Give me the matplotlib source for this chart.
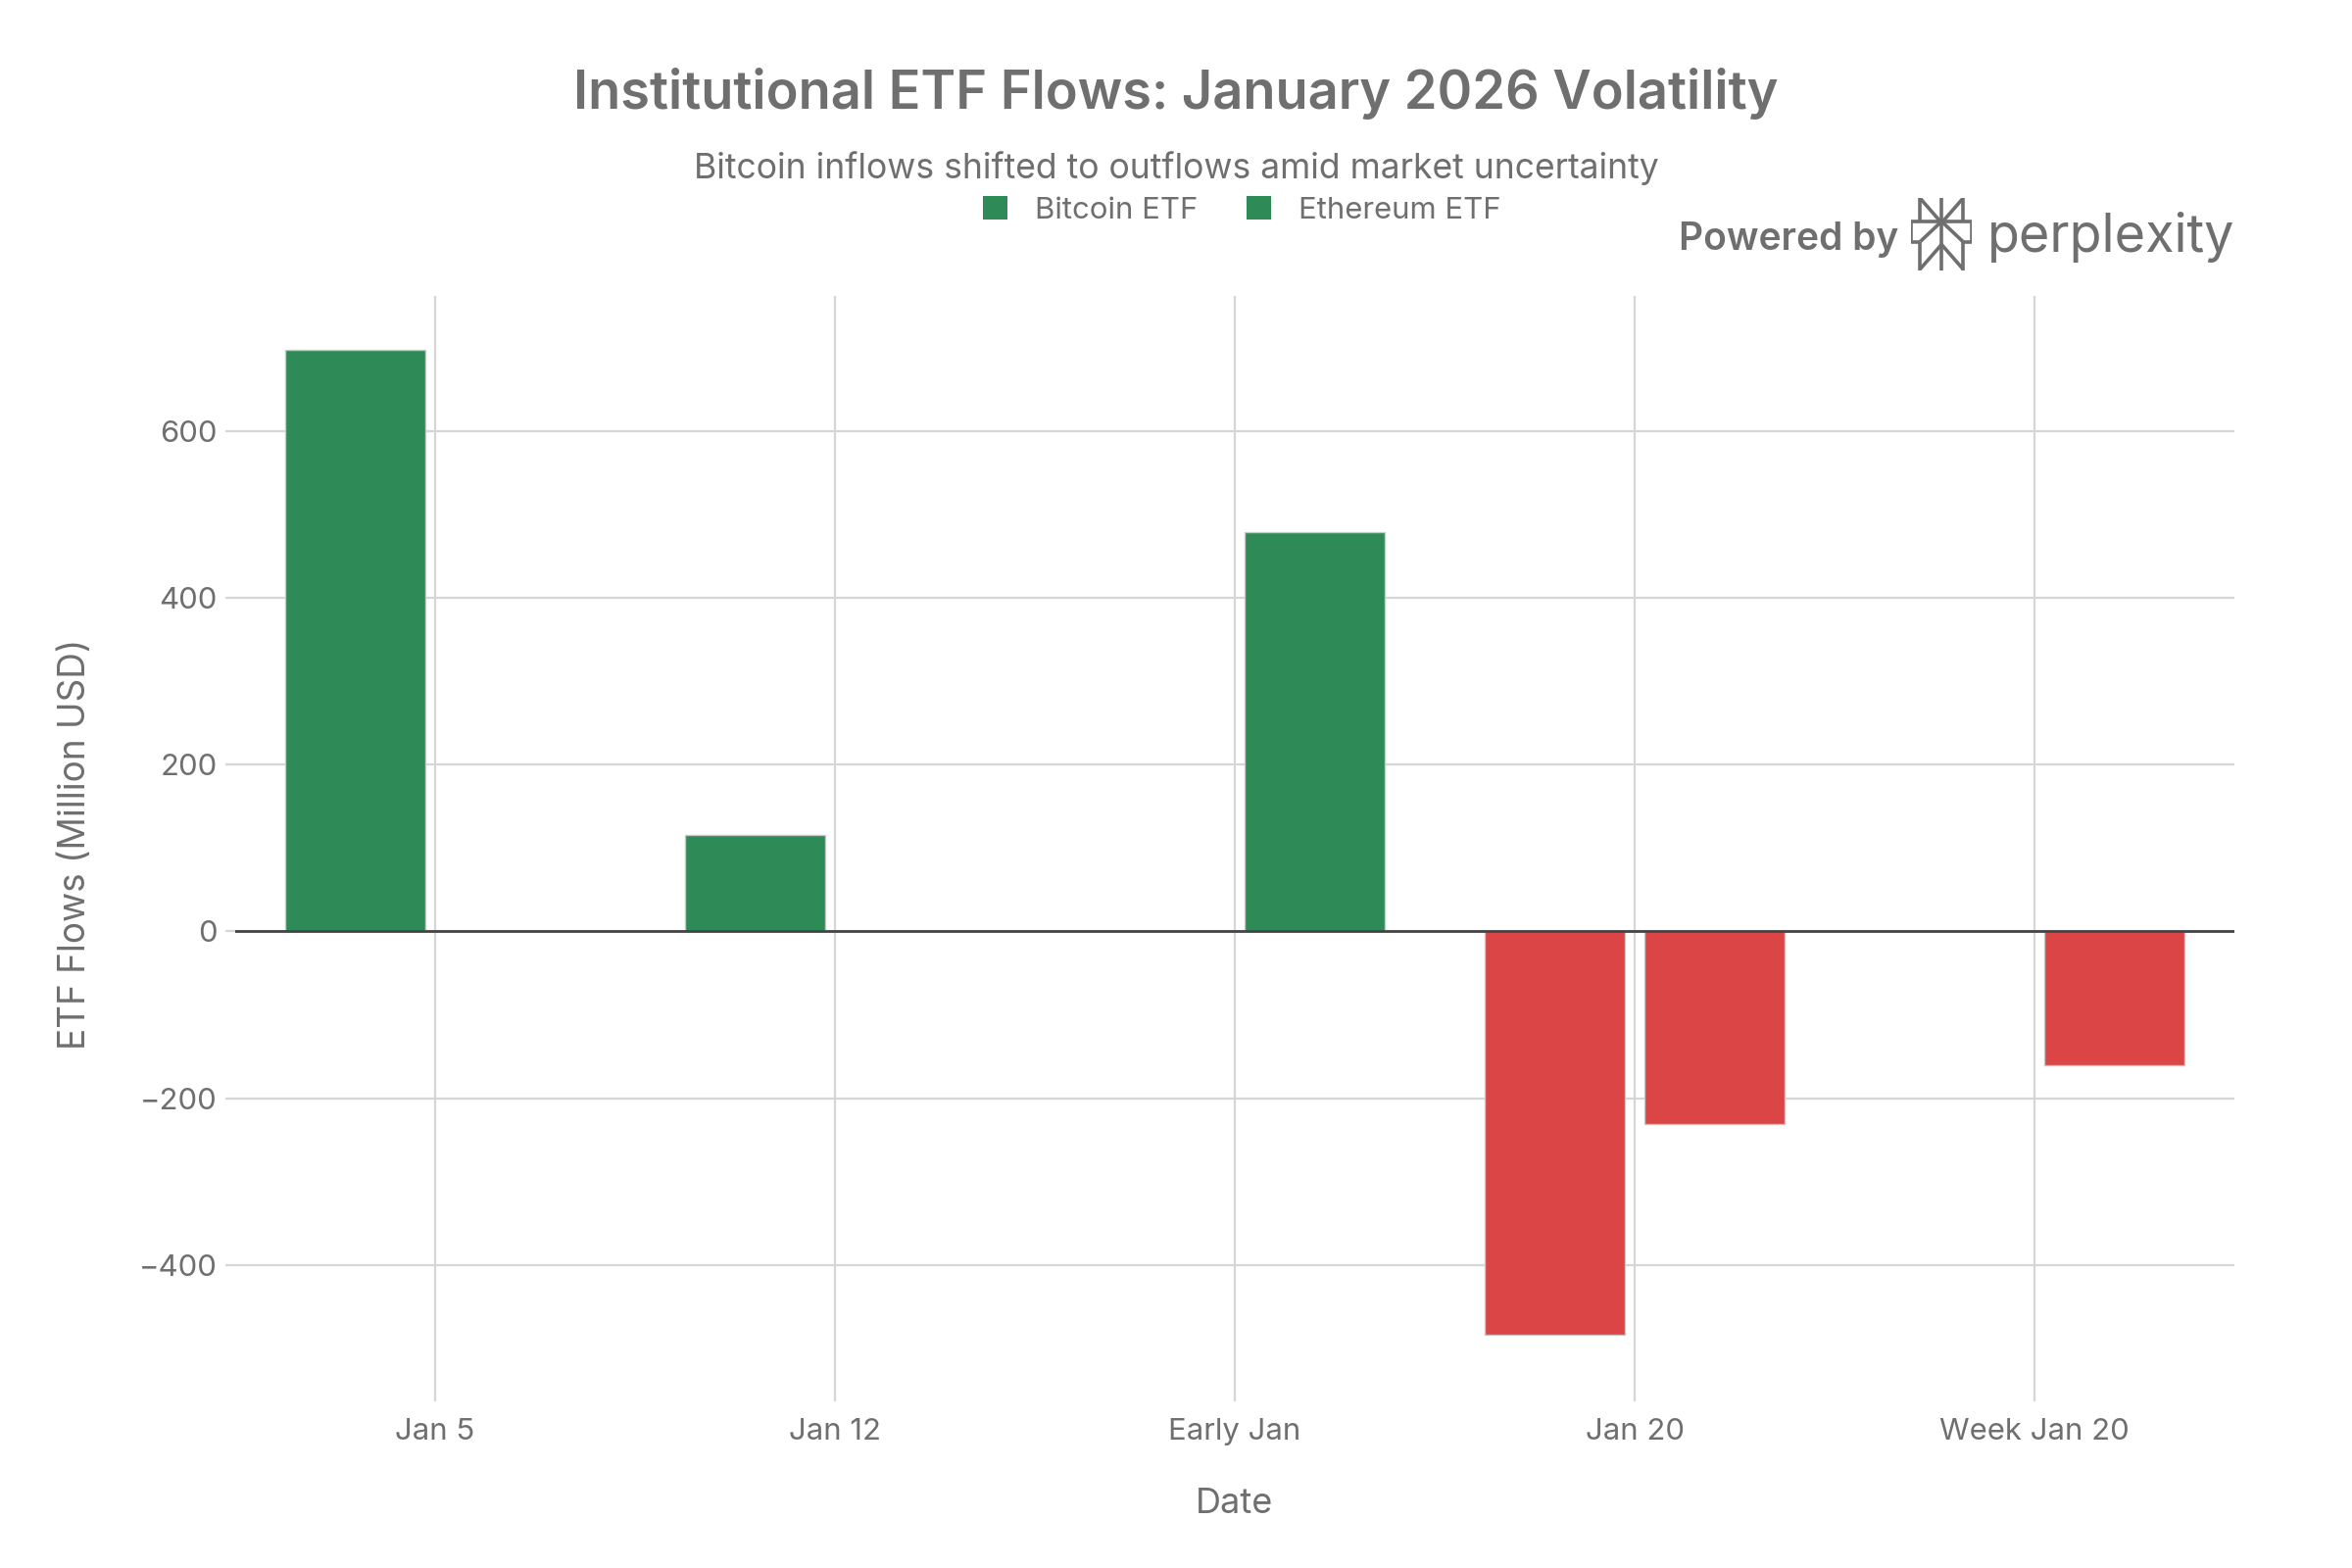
import numpy as np
import matplotlib
matplotlib.use("Agg")
import matplotlib.pyplot as plt
from matplotlib.patches import Patch

plt.rcParams['font.family'] = ['Inter', 'DejaVu Sans']

# data
dates = ["Jan 5", "Jan 12", "Early Jan", "Jan 20", "Week Jan 20"]
bitcoin_flows = [697, 116, np.nan, -484, np.nan]
ethereum_flows = [np.nan, np.nan, 479, -231, -161]
series_names = ["Bitcoin ETF", "Ethereum ETF"]
y_ticks = [-400, -200, 0, 200, 400, 600]

GREEN = '#2E8B57'
RED = '#DB4545'
TXT = '#6f6f6f'
GRID = '#d6d6d6'

fig = plt.figure(figsize=(12, 8), dpi=200)
ax = fig.add_axes([0.1, 0.1125, 0.85, 0.69875])

x = np.arange(len(dates))
width = 0.35
for vals, off in [(bitcoin_flows, -0.2), (ethereum_flows, 0.2)]:
    vals = np.array(vals, dtype=float)
    ok = ~np.isnan(vals)
    cols = [GREEN if v >= 0 else RED for v in vals[ok]]
    ax.bar(x[ok] + off, vals[ok], width=width, color=cols,
           edgecolor='#c8c8c8', linewidth=0.5, zorder=3)

ax.axhline(0, color='#444444', lw=1.0, zorder=4)

ax.set_xlim(-0.5, len(dates) - 0.5)
ax.set_ylim(-552, 762)
ax.set_xticks(x)
ax.set_xticklabels(dates)
ax.set_yticks(y_ticks)
ax.grid(True, color=GRID, lw=0.8, zorder=0)
for s in ax.spines.values():
    s.set_visible(False)
ax.tick_params(axis='both', colors=GRID, labelcolor=TXT, labelsize=11.2,
               length=3.6, width=0.8)
ax.tick_params(axis='x', pad=6)
ax.tick_params(axis='y', pad=3)

ax.set_xlabel("Date", color=TXT, fontsize=13, labelpad=15.5)
ax.set_ylabel("ETF Flows (Million USD)", color=TXT, fontsize=13.3, labelpad=17)

fig.text(0.5, 0.940, "Institutional ETF Flows: January 2026 Volatility",
         ha='center', va='center', fontsize=19.5, fontweight='semibold', color=TXT)
fig.text(0.5, 0.893, "Bitcoin inflows shifted to outflows amid market uncertainty",
         ha='center', va='center', fontsize=12.8, color=TXT)

handles = [Patch(facecolor=GREEN, edgecolor='none') for _ in series_names]
fig.legend(handles, series_names, loc='center', bbox_to_anchor=(0.528, 0.866),
           ncol=2, frameon=False, fontsize=11.2, labelcolor=TXT,
           handlelength=0.8, handleheight=0.8, columnspacing=1.6, handletextpad=0.9)

# "Powered by perplexity" badge
fig.text(0.807, 0.847, "Powered by", ha='right', va='center',
         fontsize=14, fontweight='semibold', color=TXT)
fig.text(0.845, 0.849, "perplexity", ha='left', va='center',
         fontsize=19.4, color=TXT)
lax = fig.add_axes([0.8125, 0.8275, 0.026, 0.046])
lax.set_xlim(0, 1)
lax.set_ylim(0, 1)
lax.axis('off')
segs = [
    ((0.5, 1), (0.5, 0)),
    ((0.15, 1), (0.15, 0.68)), ((0.85, 1), (0.85, 0.68)),
    ((0.15, 1), (0.5, 0.66)), ((0.85, 1), (0.5, 0.66)),
    ((0.0, 0.68), (1.0, 0.68)),
    ((0.0, 0.68), (0.0, 0.4)), ((1.0, 0.68), (1.0, 0.4)),
    ((0.0, 0.4), (0.15, 0.4)), ((1.0, 0.4), (0.85, 0.4)),
    ((0.5, 0.68), (0.15, 0.4)), ((0.5, 0.68), (0.85, 0.4)),
    ((0.15, 0.4), (0.15, 0.0)), ((0.85, 0.4), (0.85, 0.0)),
    ((0.5, 0.36), (0.15, 0.02)), ((0.5, 0.36), (0.85, 0.02)),
]
for (x0, y0), (x1, y1) in segs:
    lax.plot([x0, x1], [y0, y1], color=TXT, lw=1.3, solid_capstyle='butt')

fig.savefig("out.png", dpi=200, facecolor='white')
